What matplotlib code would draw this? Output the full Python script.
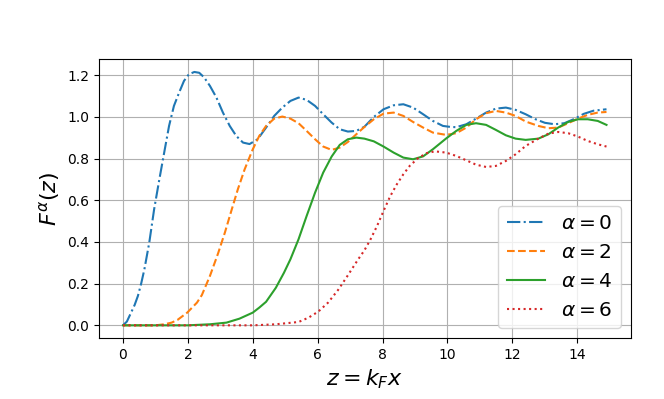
import numpy as np
import matplotlib
matplotlib.use("Agg")
import matplotlib.pyplot as plt

# values
z_a0 = [0, 0.12, 0.25, 0.36, 0.46, 0.56, 0.66, 0.81, 0.96, 1.12, 1.27, 1.42, 1.57, 1.73, 1.88,
        2.03, 2.2, 2.35, 2.5, 2.68, 2.88, 3.08, 3.29, 3.49, 3.7, 3.9, 4.15, 4.41, 4.66, 4.91,
        5.16, 5.41, 5.66, 5.92, 6.17, 6.43, 6.68, 6.93, 7.19, 7.44, 7.73, 8.03, 8.34, 8.64,
        8.94, 9.25, 9.55, 9.86, 10.1, 10.27, 10.58, 10.88, 11.19, 11.49, 11.8, 12.1, 12.41,
        12.7, 13.0, 13.3, 13.6, 13.9, 14.2, 14.5, 14.9]
F_a0 = [0, 0.018, 0.061, 0.098, 0.141, 0.200, 0.269, 0.397, 0.557, 0.70, 0.829, 0.957, 1.053,
        1.117, 1.173, 1.205, 1.216, 1.212, 1.190, 1.149, 1.093, 1.021, 0.957, 0.909, 0.877,
        0.870, 0.893, 0.949, 1.005, 1.045, 1.077, 1.093, 1.082, 1.053, 1.013, 0.973, 0.941,
        0.930, 0.933, 0.953, 1.0, 1.037, 1.056, 1.061, 1.045, 1.013, 0.981, 0.957, 0.952,
        0.951, 0.965, 0.992, 1.021, 1.040, 1.045, 1.034, 1.013, 0.990, 0.972, 0.965, 0.970,
        0.990, 1.015, 1.030, 1.037]

z_a2 = [0, 1.0, 1.27, 1.5, 1.68, 1.98, 2.28, 2.43, 2.68, 2.93, 3.14, 3.34, 3.54, 3.75, 4.0,
        4.2, 4.41, 4.66, 4.91, 5.16, 5.41, 5.66, 5.92, 6.17, 6.43, 6.68, 6.93, 7.19, 7.44,
        7.73, 8.03, 8.34, 8.64, 8.94, 9.25, 9.55, 9.96, 10.27, 10.58, 10.88, 11.19, 11.49,
        11.8, 12.1, 12.41, 12.8, 13.11, 13.41, 13.72, 14.02, 14.32, 14.63, 14.9]
F_a2 = [0, 0.0, 0.005, 0.013, 0.026, 0.061, 0.109, 0.145, 0.237, 0.345, 0.445, 0.550, 0.653,
        0.749, 0.845, 0.909, 0.957, 0.992, 1.002, 0.992, 0.970, 0.933, 0.893, 0.858, 0.842,
        0.853, 0.880, 0.917, 0.952, 0.989, 1.016, 1.021, 1.005, 0.976, 0.949, 0.925, 0.914,
        0.922, 0.949, 0.989, 1.018, 1.029, 1.021, 1.005, 0.978, 0.957, 0.946, 0.949, 0.970,
        0.992, 1.010, 1.021, 1.024]

z_a4 = [0, 2.0, 2.68, 3.19, 3.59, 4.0, 4.2, 4.41, 4.71, 4.96, 5.16, 5.41, 5.66, 5.92, 6.17,
        6.43, 6.68, 6.93, 7.19, 7.44, 7.73, 8.03, 8.34, 8.64, 8.94, 9.25, 9.55, 9.96, 10.27,
        10.58, 10.88, 11.19, 11.49, 11.8, 12.1, 12.41, 12.8, 13.11, 13.41, 13.72, 14.02,
        14.32, 14.63, 14.9]
F_a4 = [0, 0.0, 0.005, 0.013, 0.032, 0.061, 0.085, 0.113, 0.180, 0.252, 0.317, 0.413, 0.525,
        0.637, 0.733, 0.810, 0.866, 0.893, 0.901, 0.896, 0.883, 0.858, 0.829, 0.805, 0.797,
        0.811, 0.845, 0.897, 0.933, 0.962, 0.970, 0.962, 0.938, 0.912, 0.896, 0.890, 0.896,
        0.917, 0.949, 0.976, 0.989, 0.989, 0.981, 0.962]

z_a6 = [0, 4.0, 4.71, 5.41, 5.72, 6.02, 6.32, 6.63, 6.93, 7.24, 7.44, 7.62, 7.83, 8.03, 8.23,
        8.44, 8.64, 8.84, 9.1, 9.35, 9.61, 9.96, 10.27, 10.58, 10.88, 11.19, 11.49, 11.8,
        12.1, 12.41, 12.8, 13.11, 13.41, 13.72, 14.02, 14.32, 14.63, 14.9]
F_a6 = [0, 0.0, 0.005, 0.016, 0.037, 0.066, 0.109, 0.170, 0.240, 0.315, 0.360, 0.410, 0.477,
        0.549, 0.618, 0.677, 0.725, 0.766, 0.803, 0.826, 0.835, 0.829, 0.813, 0.792, 0.771,
        0.760, 0.765, 0.789, 0.821, 0.861, 0.896, 0.920, 0.928, 0.922, 0.906, 0.885, 0.869,
        0.858]

labels = [r"$\alpha=0$", r"$\alpha=2$", r"$\alpha=4$", r"$\alpha=6$"]

fig = plt.figure(figsize=(6.64, 3.99), dpi=100)
ax = fig.add_axes([0.1488, 0.1529, 0.801, 0.6985])

ax.plot(z_a0, F_a0, "-.", color="tab:blue", label=labels[0])
ax.plot(z_a2, F_a2, "--", color="tab:orange", label=labels[1])
ax.plot(z_a4, F_a4, "-", color="tab:green", label=labels[2])
ax.plot(z_a6, F_a6, ":", color="tab:red", label=labels[3])

ax.grid(True)
ax.set_xticks(np.arange(0, 15, 2))
ax.tick_params(labelsize=10)
ax.set_xlabel(r"$z=k_Fx$", fontsize=16)
ax.set_ylabel(r"$F^\alpha(z)$", fontsize=16)
ax.legend(loc="lower right", fontsize=14.5, handlelength=1.9)

fig.savefig("out.png", dpi=100)
